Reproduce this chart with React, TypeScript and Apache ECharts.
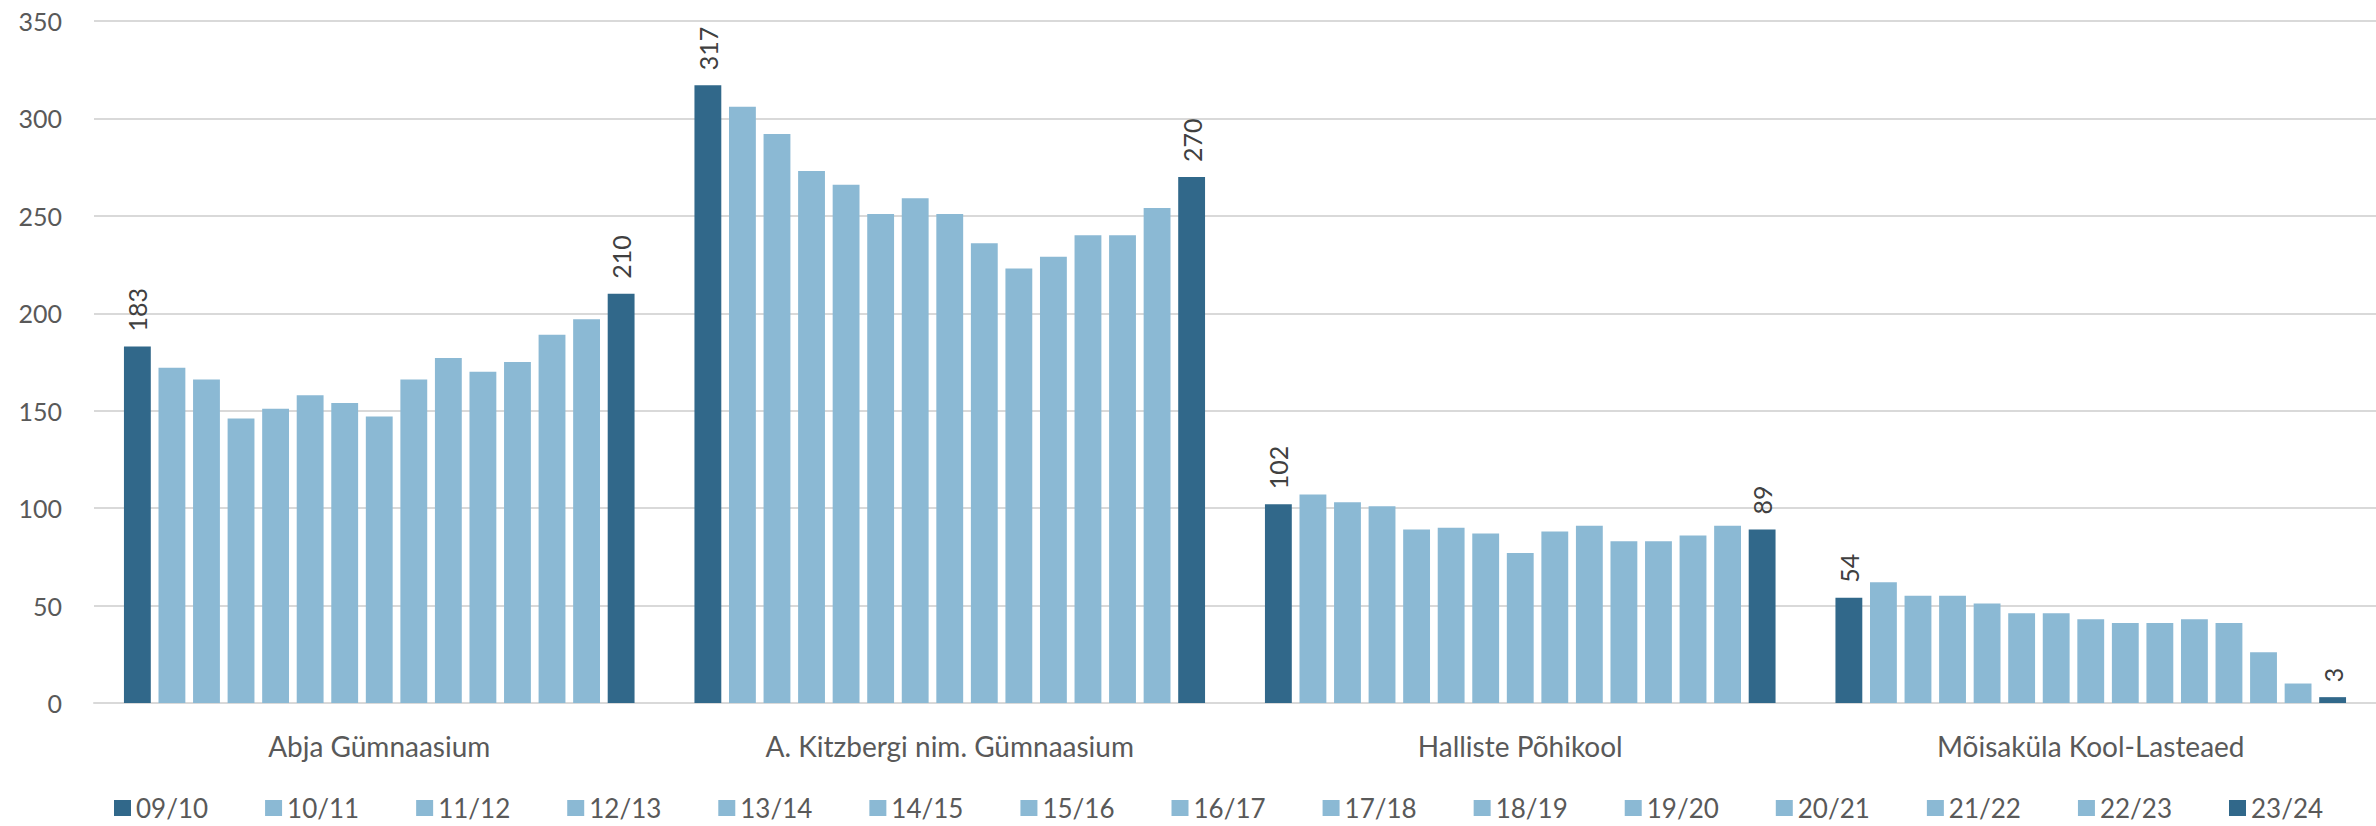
import React, { useEffect, useRef } from "react";
import * as echarts from "echarts";

const schools = [
  "Abja Gümnaasium",
  "A. Kitzbergi nim. Gümnaasium",
  "Halliste Põhikool",
  "Mõisaküla Kool-Lasteaed",
];
const seasons = [
  "09/10", "10/11", "11/12", "12/13", "13/14", "14/15", "15/16", "16/17",
  "17/18", "18/19", "19/20", "20/21", "21/22", "22/23", "23/24",
];
const abja = [183, 172, 166, 146, 151, 158, 154, 147, 166, 177, 170, 175, 189, 197, 210];
const kitzbergi = [317, 306, 292, 273, 266, 251, 259, 251, 236, 223, 229, 240, 240, 254, 270];
const halliste = [102, 107, 103, 101, 89, 90, 87, 77, 88, 91, 83, 83, 86, 91, 89];
const moisakula = [54, 62, 55, 55, 51, 46, 46, 43, 41, 41, 43, 41, 26, 10, 3];
const yTicks = { min: 0, max: 350, interval: 50 };

const DARK = "#31688a";
const LIGHT = "#8bb9d4";
const FONT = "Lato, 'Noto Sans', sans-serif";

export default function App() {
  const ref = useRef<HTMLDivElement>(null);
  useEffect(() => {
    if (!ref.current) return;
    const chart = echarts.init(ref.current, undefined, { renderer: "svg" });
    const last = seasons.length - 1;
    const series = seasons.map((s, i) => {
      const highlighted = i === 0 || i === last;
      return {
        name: s,
        type: "bar",
        data: [abja[i], kitzbergi[i], halliste[i], moisakula[i]],
        itemStyle: { color: highlighted ? DARK : LIGHT },
        barGap: "28.7%",
        barCategoryGap: "10.5%",
        label: {
          show: highlighted,
          position: "top",
          rotate: 90,
          align: "left",
          verticalAlign: "middle",
          distance: 15,
          color: "#404040",
          fontSize: 25,
          fontFamily: FONT,
        },
      };
    });
    chart.setOption({
      animation: false,
      textStyle: { fontFamily: FONT },
      grid: { left: 94, top: 21, width: 2294, height: 682, containLabel: false },
      legend: {
        left: 114,
        top: 795,
        itemWidth: 17,
        itemHeight: 16,
        itemGap: 57,
        icon: "rect",
        padding: 0,
        textStyle: { fontSize: 26, lineHeight: 26, color: "#595959", fontFamily: FONT },
        data: seasons,
      },
      xAxis: {
        type: "category",
        data: schools,
        axisLine: { lineStyle: { color: "#d9d9d9", width: 2 } },
        axisTick: { show: false },
        axisLabel: { fontSize: 28, color: "#595959", margin: 29, fontFamily: FONT },
      },
      yAxis: {
        type: "value",
        min: yTicks.min,
        max: yTicks.max,
        interval: yTicks.interval,
        axisLine: { show: false },
        axisTick: { show: false },
        splitLine: { lineStyle: { color: "#d9d9d9", width: 2 } },
        axisLabel: { fontSize: 25, color: "#595959", margin: 32, fontFamily: FONT },
      },
      series,
    });
    return () => chart.dispose();
  }, []);
  return (
    <div
      ref={ref}
      style={{ position: "fixed", left: 0, top: 0, width: 2376, height: 826, background: "#fff" }}
    />
  );
}
